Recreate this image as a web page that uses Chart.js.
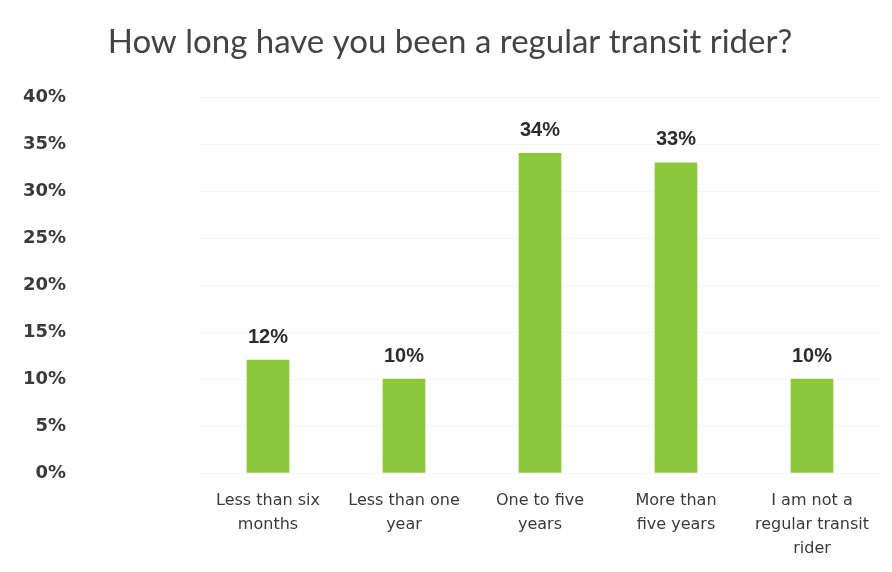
<!DOCTYPE html>
<html>
<head>
<meta charset="utf-8">
<script src="https://cdn.jsdelivr.net/npm/chart.js@4/dist/chart.umd.min.js"></script>
<style>
    html, body { margin: 0; padding: 0; background: #fff; }
    #wrap { width: 892px; height: 572px; }
</style>
</head>
<body>
<div id="wrap"><canvas id="chart"></canvas></div>
<script>
const categories = [
    ['Less than six', 'months'],
    ['Less than one', 'year'],
    ['One to five', 'years'],
    ['More than', 'five years'],
    ['I am not a', 'regular transit', 'rider']
];
const shares = [12, 10, 34, 33, 10];
const yTicks = [0, 5, 10, 15, 20, 25, 30, 35, 40];

const barColor = '#8cc83c';
const textColor = '#3a3a3a';

// percentage printed above each bar
const valueLabels = {
    id: 'valueLabels',
    afterDatasetsDraw(chart) {
        const ctx = chart.ctx;
        const meta = chart.getDatasetMeta(0);
        ctx.save();
        ctx.font = 'bold 20px "Liberation Sans", Arial, sans-serif';
        ctx.fillStyle = '#2c2c2c';
        ctx.textAlign = 'center';
        ctx.textBaseline = 'middle';
        meta.data.forEach((bar, i) => {
            ctx.fillText(shares[i] + '%', bar.x, bar.y - 23);
        });
        ctx.restore();
    }
};

new Chart(document.getElementById('chart'), {
    type: 'bar',
    data: {
        labels: categories,
        datasets: [{
            data: shares,
            backgroundColor: barColor,
            barThickness: 42
        }]
    },
    options: {
        responsive: true,
        maintainAspectRatio: false,
        animation: false,
        layout: { padding: { left: 20, right: 12, top: 0, bottom: 0 } },
        plugins: {
            legend: { display: false },
            tooltip: { enabled: false },
            title: {
                display: true,
                text: 'How long have you been a regular transit rider?',
                color: '#444',
                font: { family: 'Lato, sans-serif', size: 33, weight: 'normal', lineHeight: 1.2 },
                padding: { top: 23, bottom: 34.4 }
            }
        },
        scales: {
            y: {
                min: 0,
                max: 40,
                afterBuildTicks: axis => { axis.ticks = yTicks.map(v => ({ value: v })); },
                afterFit: axis => {
                    // wide gutter between the labels and the bars
                    axis.width = 180;
                    axis.paddingTop = 0;
                    axis.paddingBottom = 0;
                },
                border: { display: false },
                grid: { color: '#f6f6f6', drawTicks: false },
                ticks: {
                    padding: 134,
                    color: textColor,
                    font: { family: '"DejaVu Sans", sans-serif', size: 18, weight: 'bold' },
                    callback: v => v + '%'
                }
            },
            x: {
                afterFit: axis => { axis.height = 99; },
                border: { display: false },
                grid: { display: false, drawTicks: false },
                ticks: {
                    padding: 16,
                    maxRotation: 0,
                    autoSkip: false,
                    color: textColor,
                    font: { family: '"DejaVu Sans", sans-serif', size: 16, lineHeight: 1.5 }
                }
            }
        }
    },
    plugins: [valueLabels]
});
</script>
</body>
</html>
